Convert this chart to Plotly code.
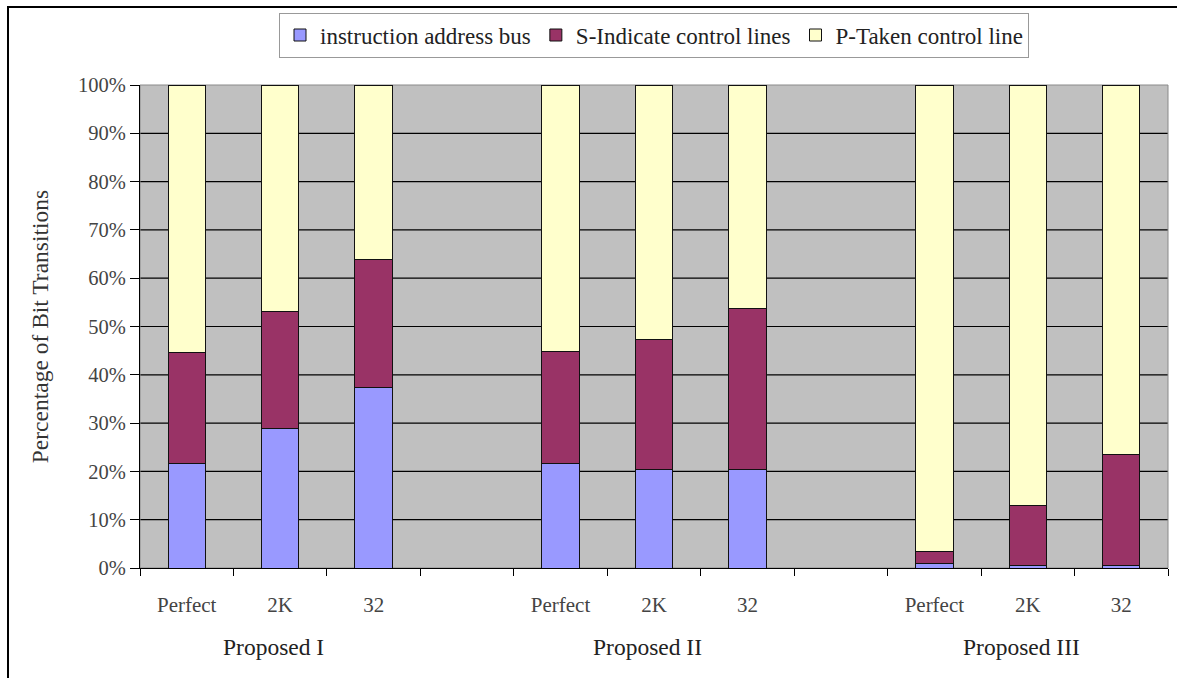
import plotly.graph_objects as go

# Bit-transition breakdown (percent of total) per predictor configuration
groups = ["Proposed I", "Proposed II", "Proposed III"]
configs = ["Perfect", "2K", "32"]

addr_bus = [21.7, 28.8, 37.3, 21.7, 20.3, 20.3, 0.9, 0.6, 0.6]
s_indicate = [23.0, 24.4, 26.5, 23.1, 27.1, 33.5, 2.5, 12.4, 22.8]
p_taken = [round(100 - a - s, 1) for a, s in zip(addr_bus, s_indicate)]

series_names = ["instruction address bus", "S-Indicate control lines", "P-Taken control line"]
series_colors = ["#9999FF", "#993366", "#FFFFCC"]
y_ticks = list(range(0, 101, 10))
y_tick_text = [f"{v}%" for v in y_ticks]

# slot positions: three bars per group with one empty slot between groups
slots_per_group = len(configs) + 1
x_pos = [g * slots_per_group + c for g in range(len(groups)) for c in range(len(configs))]
x_labels = [c for _ in groups for c in configs]
n_slots = len(groups) * slots_per_group - 1
boundaries = [i - 0.5 for i in range(n_slots + 1)]

FONT = "Times New Roman, Liberation Serif, serif"

fig = go.Figure()
for name, vals, col in zip(series_names, [addr_bus, s_indicate, p_taken], series_colors):
    fig.add_trace(go.Bar(
        x=x_pos, y=vals, name=name, width=0.4,
        marker=dict(color=col, line=dict(color="#111111", width=1)),
    ))

shapes = []
# horizontal gridlines between the ends of the value axis
for v in y_ticks[1:-1]:
    shapes.append(dict(type="line", xref="paper", yref="y", x0=0, x1=1, y0=v, y1=v,
                       line=dict(color="black", width=1.2), layer="below"))
# frame of the plotting area (top and right edges)
shapes.append(dict(type="rect", xref="paper", yref="paper", x0=0, x1=1, y0=0, y1=1,
                   line=dict(color="#8a8a8a", width=1), layer="below"))
# outer chart border
shapes.append(dict(type="rect", xref="paper", yref="paper", x0=-0.1284, x1=1.2,
                   y0=-0.3, y1=1.1615, line=dict(color="black", width=2)))

annotations = []
for g, label in enumerate(groups):
    annotations.append(dict(
        x=g * slots_per_group + 0.93, y=-0.163, xref="x", yref="paper",
        text=label, showarrow=False, yanchor="middle",
        font=dict(family=FONT, size=23.5, color="#222222"),
    ))

fig.update_layout(
    barmode="stack",
    width=1177, height=678,
    margin=dict(l=140, r=9, t=85, b=110),
    paper_bgcolor="white",
    plot_bgcolor="#C0C0C0",
    font=dict(family=FONT),
    shapes=shapes,
    annotations=annotations,
    showlegend=True,
    legend=dict(
        orientation="h", x=0.5, xanchor="center", y=1.15, yanchor="top",
        bgcolor="white", bordercolor="#999999", borderwidth=1,
        font=dict(family=FONT, size=23, color="#222222"),
        traceorder="normal", itemwidth=30,
    ),
    xaxis=dict(
        range=[-0.5, n_slots - 0.5],
        tickmode="array", tickvals=x_pos, ticktext=x_labels,
        ticks="", ticklabelstandoff=18,
        tickfont=dict(family=FONT, size=21, color="#444444"),
        showgrid=False, zeroline=False,
        showline=True, linecolor="black", linewidth=1.2,
        minor=dict(tickmode="array", tickvals=boundaries, ticks="outside",
                   ticklen=7, tickcolor="black", tickwidth=1.2, showgrid=False),
    ),
    yaxis=dict(
        range=[0, 100],
        tickmode="array", tickvals=y_ticks, ticktext=y_tick_text,
        ticks="outside", ticklen=9, tickcolor="black", tickwidth=1.2,
        tickfont=dict(family=FONT, size=20.5, color="#444444"),
        showgrid=False, zeroline=False,
        showline=True, linecolor="black", linewidth=1.2,
        title=dict(text="Percentage of Bit Transitions", standoff=22,
                   font=dict(family=FONT, size=23.5, color="#333333")),
    ),
)

fig.write_html("out.html")
